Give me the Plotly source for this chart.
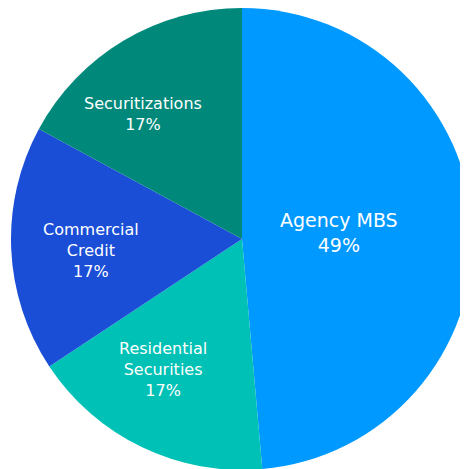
import math
import plotly.graph_objects as go

labels = ["Agency MBS", "Residential<br>Securities", "Commercial<br>Credit", "Securitizations"]
values = [48.6, 17.1, 17.2, 17.1]
colors = ["#0099FF", "#00C1B5", "#1A4ED6", "#00897B"]

# label placement inside each slice: fraction of radius, angle nudge (deg), font size
label_frac = [0.42, 0.66, 0.655, 0.69]
label_nudge = [-1.3, 5.3, -1.8, -7.8]
label_size = [19, 16, 16, 16]

fig = go.Figure()

fig.add_trace(
    go.Pie(
        labels=labels,
        values=values,
        sort=False,
        direction="clockwise",
        rotation=0,
        marker=dict(colors=colors, line=dict(width=0)),
        textinfo="none",
        hoverinfo="label+percent",
        showlegend=False,
    )
)

total = sum(values)
start = 0.0
for lab, val, frac, nudge, size in zip(labels, values, label_frac, label_nudge, label_size):
    mid = (start + val / 2) / total * 360 + nudge
    start += val
    theta = math.radians(mid)
    fig.add_annotation(
        x=0.5 + 0.5 * frac * math.sin(theta),
        y=0.5 + 0.5 * frac * math.cos(theta),
        xref="paper",
        yref="paper",
        xanchor="center",
        yanchor="middle",
        text=f"{lab}<br>{val / total:.0%}",
        showarrow=False,
        font=dict(family="DejaVu Sans", color="white", size=size),
    )

fig.update_layout(
    width=470,
    height=462,
    margin=dict(l=3, r=5, t=0, b=0, pad=0),
    paper_bgcolor="white",
    plot_bgcolor="white",
)

fig.write_html(
    "out.html",
    post_script="document.body.style.overflow='hidden';document.documentElement.style.overflow='hidden';",
)
